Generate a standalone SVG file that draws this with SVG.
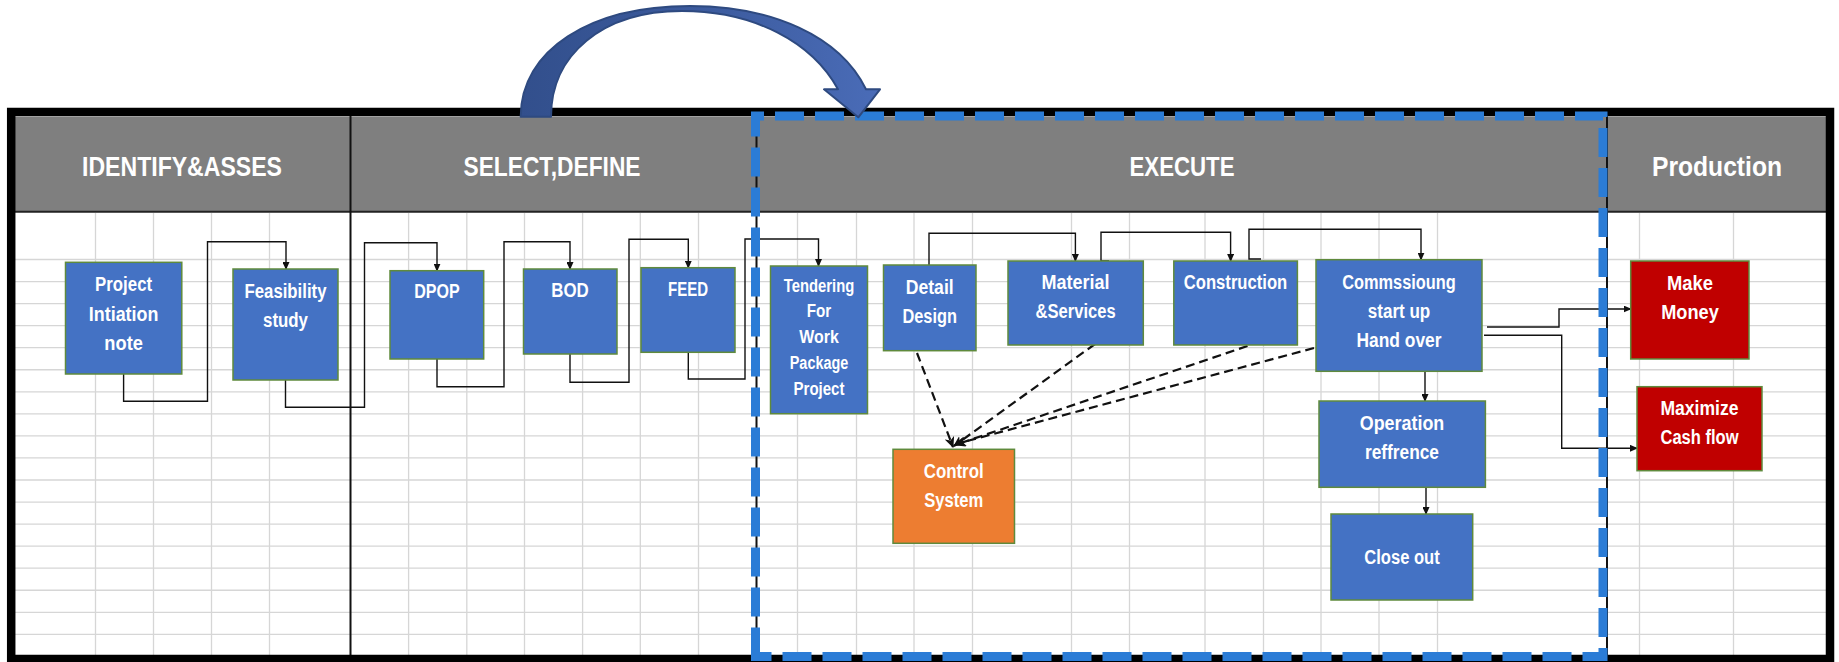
<svg xmlns="http://www.w3.org/2000/svg" width="1839" height="662" viewBox="0 0 1839 662">
<defs>
<style>
.grid{stroke:#d6d6d6;stroke-width:1.3;fill:none}
.hdr{font-family:"Liberation Sans",Arial,sans-serif;font-weight:bold;font-size:28px;fill:#ffffff;text-anchor:middle}
.lbl{font-family:"Liberation Sans",Arial,sans-serif;font-weight:bold;font-size:20px;fill:#ffffff;text-anchor:middle}
.sm{font-size:17.5px}
.blue{fill:#4472c4;stroke:#5f8a3c;stroke-width:1.5}
.orange{fill:#ed7d31;stroke:#5f8a3c;stroke-width:1.5}
.red{fill:#c00000;stroke:#5f8a3c;stroke-width:1.5}
.conn{fill:none;stroke:#111;stroke-width:1.4;marker-end:url(#ah)}
.dash{fill:none;stroke:#111;stroke-width:2.2;stroke-dasharray:9 5;marker-end:url(#ah2)}
</style>
<marker id="ah" markerWidth="8" markerHeight="7" refX="7" refY="3.5" orient="auto" markerUnits="userSpaceOnUse">
<path d="M0,0 L8,3.5 L0,7 z" fill="#111"/>
</marker>
<marker id="ah2" markerWidth="11" markerHeight="10" refX="10" refY="5" orient="auto" markerUnits="userSpaceOnUse">
<path d="M0,0 L11,5 L0,10 L3,5 z" fill="#111"/>
</marker>
<linearGradient id="arrowg" x1="0" y1="0" x2="1" y2="0">
<stop offset="0" stop-color="#324f8c"/>
<stop offset="0.55" stop-color="#3d5c9f"/>
<stop offset="1" stop-color="#4a6cb8"/>
</linearGradient>
</defs>
<rect x="0" y="0" width="1839" height="662" fill="#ffffff"/>
<g id="grid">
<path class="grid" d="M95.5,213V656M153.5,213V656M211.5,213V656M269.5,213V656M408.6,213V656M466.8,213V656M524.5,213V656M582.6,213V656M640.3,213V656M698.5,213V656M797.5,213V656M856.5,213V656M914,213V656M972.5,213V656M1071.5,213V656M1129.5,213V656M1205,213V656M1263.5,213V656M1321,213V656M1379,213V656M1437.5,213V656M1639.5,213V656M1733.5,213V656"/>
<path class="grid" d="M15,259.5H1826M15,281.55H1826M15,303.6H1826M15,325.65H1826M15,347.7H1826M15,369.75H1826M15,391.8H1826M15,413.85H1826M15,435.9H1826M15,457.95H1826M15,480H1826M15,502.05H1826M15,524.1H1826M15,546.15H1826M15,568.2H1826M15,590.25H1826M15,612.3H1826M15,634.35H1826"/>
</g>
<g id="header">
<rect x="15" y="116.7" width="1811" height="94.5" fill="#7f7f7f"/>
<line x1="15" y1="211.8" x2="1826" y2="211.8" stroke="#222" stroke-width="2"/>
<line x1="350.5" y1="116" x2="350.5" y2="657" stroke="#111" stroke-width="2"/>
<line x1="756.5" y1="116" x2="756.5" y2="657" stroke="#111" stroke-width="2"/>
<line x1="1607" y1="116" x2="1607" y2="657" stroke="#111" stroke-width="2"/>
<text class="hdr" x="182" y="176" textLength="200" lengthAdjust="spacingAndGlyphs">IDENTIFY&amp;ASSES</text>
<text class="hdr" x="552" y="176" textLength="177" lengthAdjust="spacingAndGlyphs">SELECT,DEFINE</text>
<text class="hdr" x="1182" y="176" textLength="105" lengthAdjust="spacingAndGlyphs">EXECUTE</text>
<text class="hdr" x="1717" y="176" textLength="130" lengthAdjust="spacingAndGlyphs">Production</text>
</g>
<rect id="frame" x="11.2" y="112" width="1818.8" height="547" fill="none" stroke="#000" stroke-width="8.5"/>
<g id="connectors">
<path class="conn" d="M123.6,374V401.3H207.5V241.7H286V269"/>
<path class="conn" d="M285.5,380V407.3H364.5V242.7H437V270.7"/>
<path class="conn" d="M437,359V386.7H504V241.7H570V269"/>
<path class="conn" d="M570,354V382.3H629V239.3H688.3V267.7"/>
<path class="conn" d="M688.3,352.3V379H745V239H818.5V266"/>
<path class="conn" d="M929,265V233.3H1075.4V261"/>
<path class="conn" d="M1109,261H1101V232.3H1230.6V261"/>
<path class="conn" d="M1261,259H1249V229.3H1421V259.7"/>
<path class="conn" d="M1425,371.3V401"/>
<path class="conn" d="M1426,487.3V514"/>
<path class="conn" d="M1487,327H1559V309H1630.7"/>
<path class="conn" d="M1484,335.3H1561.7V448.3H1637"/>
<path class="dash" d="M917,353L953,447"/>
<path class="dash" d="M1095,344L954,446"/>
<path class="dash" d="M1247.5,346L955,445"/>
<path class="dash" d="M1314,348L956,444"/>
</g>
<path id="execute-border" d="M755.5,656.5V116H1603V656.5Z" fill="none" stroke="#2b7cd6" stroke-width="9" stroke-dasharray="29 11"/>
<g id="n-project"><rect class="blue" x="65.5" y="262.3" width="116.3" height="111.7"/><text class="lbl" x="123.6" y="291" textLength="57" lengthAdjust="spacingAndGlyphs">Project</text><text class="lbl" x="123.6" y="320.5" textLength="69.5" lengthAdjust="spacingAndGlyphs">Intiation</text><text class="lbl" x="123.6" y="350" textLength="38.5" lengthAdjust="spacingAndGlyphs">note</text></g>
<g id="n-feasibility"><rect class="blue" x="233" y="269" width="105" height="111"/><text class="lbl" x="285.5" y="297.7" textLength="82" lengthAdjust="spacingAndGlyphs">Feasibility</text><text class="lbl" x="285.5" y="327" textLength="45" lengthAdjust="spacingAndGlyphs">study</text></g>
<g id="n-dpop"><rect class="blue" x="390" y="270.7" width="93.7" height="88.3"/><text class="lbl" x="437" y="297.7" textLength="45.5" lengthAdjust="spacingAndGlyphs">DPOP</text></g>
<g id="n-bod"><rect class="blue" x="523.5" y="269" width="93.5" height="85"/><text class="lbl" x="570" y="297" textLength="37.5" lengthAdjust="spacingAndGlyphs">BOD</text></g>
<g id="n-feed"><rect class="blue" x="641" y="267.7" width="94" height="84.6"/><text class="lbl" x="688" y="296" textLength="40" lengthAdjust="spacingAndGlyphs">FEED</text></g>
<g id="n-tendering"><rect class="blue" x="770.5" y="266" width="97" height="147.7"/><text class="lbl sm" x="819" y="292" textLength="70.5" lengthAdjust="spacingAndGlyphs">Tendering</text><text class="lbl sm" x="819" y="317" textLength="24.5" lengthAdjust="spacingAndGlyphs">For</text><text class="lbl sm" x="819" y="342.7" textLength="39.5" lengthAdjust="spacingAndGlyphs">Work</text><text class="lbl sm" x="819" y="368.7" textLength="58.5" lengthAdjust="spacingAndGlyphs">Package</text><text class="lbl sm" x="819" y="394.7" textLength="51" lengthAdjust="spacingAndGlyphs">Project</text></g>
<g id="n-detail"><rect class="blue" x="883.5" y="265" width="92.5" height="85.7"/><text class="lbl" x="929.7" y="294.3" textLength="48" lengthAdjust="spacingAndGlyphs">Detail</text><text class="lbl" x="929.7" y="323" textLength="54.5" lengthAdjust="spacingAndGlyphs">Design</text></g>
<g id="n-material"><rect class="blue" x="1008" y="261" width="135.3" height="84"/><text class="lbl" x="1075.6" y="288.7" textLength="68" lengthAdjust="spacingAndGlyphs">Material</text><text class="lbl" x="1075.6" y="318" textLength="80" lengthAdjust="spacingAndGlyphs">&amp;Services</text></g>
<g id="n-construction"><rect class="blue" x="1173.8" y="261" width="123.6" height="84"/><text class="lbl" x="1235.5" y="288.7" textLength="103.5" lengthAdjust="spacingAndGlyphs">Construction</text></g>
<g id="n-commissioning"><rect class="blue" x="1316" y="259.7" width="166" height="111.6"/><text class="lbl" x="1399" y="288.7" textLength="113.5" lengthAdjust="spacingAndGlyphs">Commssioung</text><text class="lbl" x="1399" y="317.7" textLength="62.5" lengthAdjust="spacingAndGlyphs">start up</text><text class="lbl" x="1399" y="347" textLength="85" lengthAdjust="spacingAndGlyphs">Hand over</text></g>
<g id="n-operation"><rect class="blue" x="1319" y="401" width="166.4" height="86.3"/><text class="lbl" x="1402" y="430.3" textLength="84.5" lengthAdjust="spacingAndGlyphs">Operation</text><text class="lbl" x="1402" y="458.7" textLength="74" lengthAdjust="spacingAndGlyphs">reffrence</text></g>
<g id="n-closeout"><rect class="blue" x="1331" y="514" width="141.7" height="86"/><text class="lbl" x="1402" y="564.3" textLength="75.5" lengthAdjust="spacingAndGlyphs">Close out</text></g>
<g id="n-control"><rect class="orange" x="893" y="449.3" width="121.5" height="94"/><text class="lbl" x="953.7" y="478" textLength="60" lengthAdjust="spacingAndGlyphs">Control</text><text class="lbl" x="953.7" y="507" textLength="59" lengthAdjust="spacingAndGlyphs">System</text></g>
<g id="n-makemoney"><rect class="red" x="1630.7" y="261" width="118.3" height="98"/><text class="lbl" x="1690" y="289.7" textLength="46" lengthAdjust="spacingAndGlyphs">Make</text><text class="lbl" x="1690" y="318.7" textLength="57.5" lengthAdjust="spacingAndGlyphs">Money</text></g>
<g id="n-maximize"><rect class="red" x="1637" y="386.7" width="125" height="84"/><text class="lbl" x="1699.5" y="415.3" textLength="78" lengthAdjust="spacingAndGlyphs">Maximize</text><text class="lbl" x="1699.5" y="443.7" textLength="78" lengthAdjust="spacingAndGlyphs">Cash flow</text></g>
<path id="curved-arrow" d="M520.7,116.7C520.7,50 590,6 690,6C772,6 840,36 866,89.3L880,89.3L858.3,117.3L824,89.3L838,89.3C812,42 754,11 682,11C602,11 551,55 551,116.7Z" fill="url(#arrowg)" stroke="#2e4a80" stroke-width="2" stroke-linejoin="round"/>
</svg>
